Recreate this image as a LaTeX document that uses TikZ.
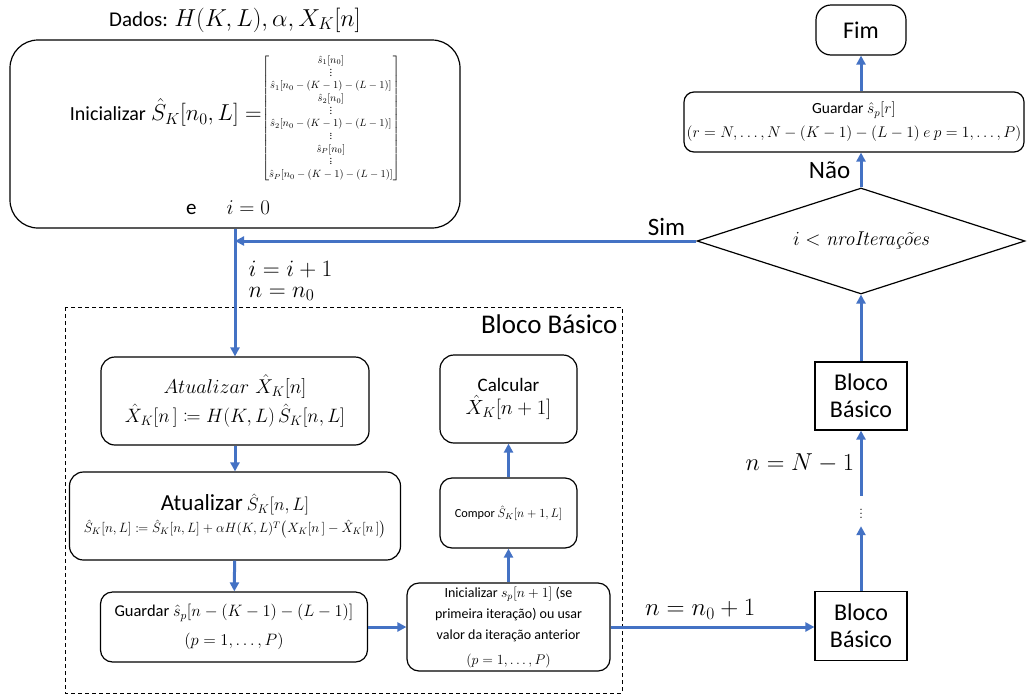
\RequirePackage{fix-cm}
\documentclass[tikz,border=0pt]{standalone}
\usepackage{amsmath,mathtools}
\usepackage{fontspec}
\setsansfont{Carlito}
\usetikzlibrary{shapes.geometric,arrows.meta,positioning}
\definecolor{flowblue}{RGB}{68,114,196}
\newcommand{\smallvdots}{\vbox{\baselineskip2.6pt\lineskiplimit0pt\kern1pt\hbox{.}\hbox{.}\hbox{.}}}
\newcommand{\initvec}{{\fontsize{10.5}{12.7}\selectfont$\left[\begin{array}{@{}c@{}}
\hat{s}_1[n_0]\\ \smallvdots\\ \hat{s}_1[n_0-(K-1)-(L-1)]\\
\hat{s}_2[n_0]\\ \smallvdots\\ \hat{s}_2[n_0-(K-1)-(L-1)]\\ \smallvdots\\
\hat{s}_P[n_0]\\ \smallvdots\\ \hat{s}_P[n_0-(K-1)-(L-1)]\end{array}\right]$}}
\begin{document}
\begin{tikzpicture}[x=1pt, y=-1pt,
	box/.style  = {draw, line width=1.2pt, rounded corners=14pt, align=center, font=\sffamily, inner sep=2pt},
	plain/.style = {draw, line width=1.2pt, align=center, font=\sffamily\fontsize{24}{27}\selectfont},
	lbl/.style  = {font=\sffamily\fontsize{25}{28}\selectfont},
	mlbl/.style = {font=\fontsize{23.5}{28}\selectfont},
	flow/.style = {->, draw=flowblue, line width=3pt},
	>={Triangle[length=9pt,width=9pt]}]
	\useasboundingbox (0,0) rectangle (1032,699);
	
	% start block
	\node[font=\sffamily\fontsize{21}{24}\selectfont] (dados) at (235,20) {Dados: {\fontsize{24.5}{26}\selectfont$H(K,L),\alpha,X_K[n]$}};
	\node[box, rounded corners=28pt, minimum width=450pt, minimum height=188pt] (init) at (235,134) {};
	\node[font=\sffamily\fontsize{23}{25}\selectfont, inner sep=0pt] (initeq) at (235,118)
		{{\fontsize{20}{24}\selectfont Inicializar} $\hat{S}_K[n_0,L]=$\initvec};
	\node[font=\sffamily\fontsize{21}{24}\selectfont] (initi) at (228,208) {e\hspace{30pt}$i=0$};
	
	% basic block, left side
	\draw[dash pattern=on 4pt off 3pt, line width=0.8pt] (65,307) rectangle (622,693);
	\node[lbl, font=\sffamily\fontsize{27}{30}\selectfont, anchor=north east] (bbtitle) at (621,311) {Bloco Básico};
	\node[box, minimum width=268pt, minimum height=88pt, font=\fontsize{19.4}{29}\selectfont] (atX) at (235,401)
		{{\fontsize{20}{25}\selectfont$Atualizar\ \hat{X}_K[n]$}\\ $\hat{X}_K[n\,]\coloneqq H(K,L)\,\hat{S}_K[n,L]$};
	\node[box, minimum width=331pt, minimum height=88pt, font=\sffamily\fontsize{18}{24}\selectfont] (atS) at (235,516)
		{{\fontsize{23}{26}\selectfont Atualizar} $\hat{S}_K[n,L]$\\[-2pt] {\fontsize{13.5}{15}\selectfont $\hat{S}_K[n,L]\coloneqq\hat{S}_K[n,L]+\alpha H(K,L)^T\bigl(X_K[n\,]-\hat{X}_K[n\,]\bigr)$}};
	\node[box, rounded corners=12pt, minimum width=267pt, minimum height=70pt, font=\sffamily\fontsize{16.5}{29}\selectfont] (guardN) at (234,627)
		{Guardar $\hat{s}_p[n-(K-1)-(L-1)]$\\ $(p=1,\dots,P)$};
	
	% basic block, right side
	\node[box, rounded corners=12pt, minimum width=203pt, minimum height=88pt, font=\sffamily\fontsize{14}{21}\selectfont] (initS) at (508.5,627)
		{Inicializar $s_p[n+1]$ (se\\ primeira iteração) ou usar\\ valor da iteração anterior\\[4pt] $(p=1,\dots,P)$};
	\node[box, rounded corners=12pt, minimum width=137pt, minimum height=70pt, font=\sffamily\fontsize{12.3}{15}\selectfont] (compor) at (508.5,513)
		{Compor $\hat{S}_K[n+1,L]$};
	\node[box, minimum width=137pt, minimum height=88pt, font=\sffamily\fontsize{19}{23}\selectfont] (calc) at (508.5,399)
		{Calcular\\ {\fontsize{20.5}{23}\selectfont$\hat{X}_K[n+1]$}};
	
	% iterations column
	\node[plain, minimum width=92pt, minimum height=69pt] (bloco1) at (861,626) {Bloco\\Básico};
	\node[inner sep=0pt, minimum height=30pt, font=\fontsize{16}{16}\selectfont] (dots) at (861,511) {$\vdots$};
	\node[plain, minimum width=92pt, minimum height=68pt] (bloco2) at (861,396) {Bloco\\Básico};
	\node[diamond, draw, line width=1.2pt, aspect=3, inner sep=0pt, minimum width=328pt, minimum height=106pt,
		font=\fontsize{20}{22}\selectfont] (dec) at (861,241) {$i<{}${\itshape nroIterações}};
	\node[box, rounded corners=10pt, minimum width=340pt, minimum height=60pt, font=\sffamily\fontsize{15.5}{24}\selectfont] (guardR) at (854,122)
		{Guardar $\hat{s}_p[r]$\\ $(r=N,\dots,N-(K-1)-(L-1)\ e\ p=1,\dots,P)$};
	\node[box, rounded corners=15pt, minimum width=90pt, minimum height=50pt, font=\sffamily\fontsize{24}{26}\selectfont] (fim) at (861,30) {Fim};
	
	% connectors
	\coordinate (join) at (init.south |- dec.west);
	\node[mlbl, anchor=west] (iinc) at (245,270) {$i=i+1$};
	\node[mlbl, anchor=west] (nset) at (245,294) {$n=n_0$};
	\draw[flow] (init.south) -- (atX.north);
	\draw[flow] (atX) -- (atS);
	\draw[flow] (atS) -- (guardN);
	\draw[flow] (guardN) -- (initS);
	\draw[flow] (initS) -- (compor);
	\draw[flow] (compor) -- (calc);
	\draw[flow] (initS.east) -- (initS.east -| bloco1.west) node[pos=0.44, above=3pt, mlbl, font=\fontsize{25}{28}\selectfont] {$n=n_0+1$};
	\draw[flow] (bloco1) -- (dots);
	\draw[flow] (dots) -- (bloco2) node[midway, left=2pt, mlbl, font=\fontsize{24.5}{26}\selectfont] {$n=N-1$};
	\draw[flow] (bloco2) -- (dec.south);
	\draw[flow] (dec.north) -- (dec.north |- guardR.south) node[midway, left=6pt, lbl] {Não};
	\draw[flow] (fim.south |- guardR.north) -- (fim.south);
	\draw[flow] (dec.west) -- (join) node[pos=0.065, above=1pt, lbl] {Sim};
\end{tikzpicture}
\end{document}
